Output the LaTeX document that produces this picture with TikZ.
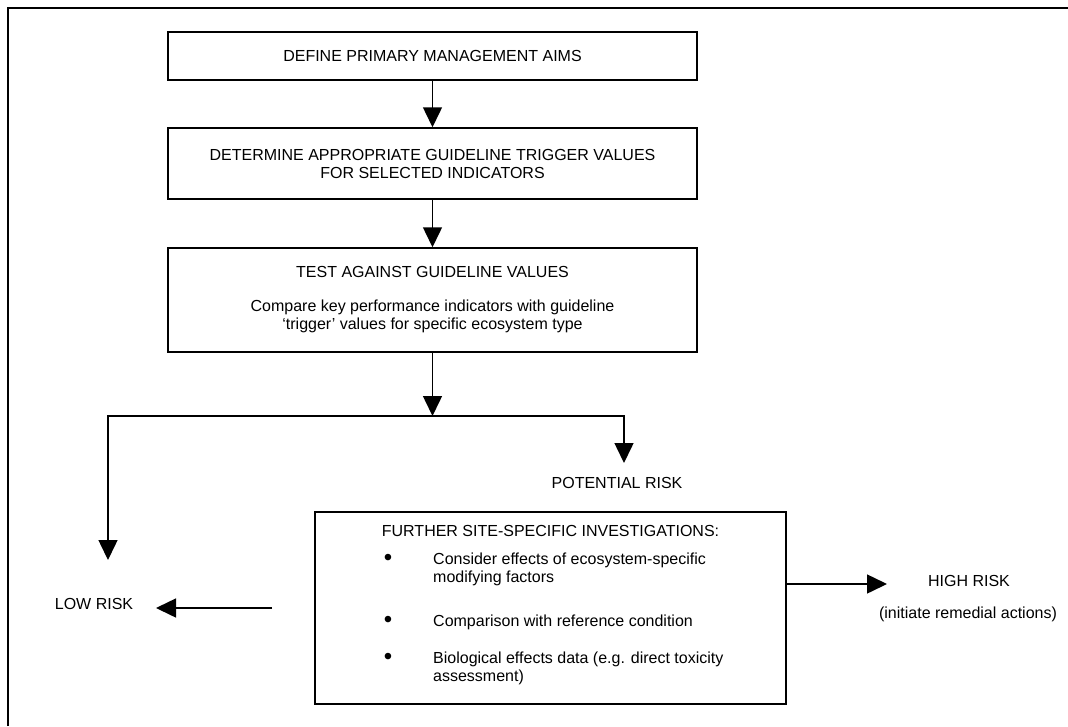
\documentclass[tikz,border=0pt]{standalone}
\usepackage{fontspec}
\setmainfont{Liberation Sans}
\usetikzlibrary{arrows.meta}
\begin{document}
\begin{tikzpicture}[x=1pt,y=-1pt,
    every node/.style={inner sep=0pt,align=center,font=\fontsize{16}{18}\selectfont},
    box/.style={draw,line width=1.5pt},
    bul/.style={font=\fontsize{24}{24}\selectfont},
    arr/.style={line width=1.5pt,-{Triangle[length=20pt,width=19pt]}},
    arrs/.style={line width=1.5pt,{Triangle[length=20pt,width=19pt]}-{Triangle[length=20pt,width=19pt]}}]
      \useasboundingbox (0,0) rectangle (1068,726);
      \draw[line width=2.2pt] (8,726) -- (8,8) -- (1068,8);
      \draw
        (432.5,56) node[box,minimum width=529,minimum height=48] (aims){DEFINE PRIMARY MANAGEMENT AIMS}
        (432.5,163.5) node[box,minimum width=529,minimum height=71] (trig){DETERMINE APPROPRIATE GUIDELINE TRIGGER VALUES\\FOR SELECTED INDICATORS}
        (432.5,300) node[box,minimum width=529,minimum height=104] (test){TEST AGAINST GUIDELINE VALUES\\[16pt]Compare key performance indicators with guideline\\‘trigger’ values for specific ecosystem type}
        (617,483) node (pot){POTENTIAL RISK}
        (550.5,608) node[box,minimum width=471,minimum height=192] (invest){}
        (550.5,531) node (furth){FURTHER SITE-SPECIFIC INVESTIGATIONS:}
        (388,560) node[bul] (dot1){•}
        (433,569) node[anchor=west,align=left] (item1){Consider effects of ecosystem-specific\\modifying factors}
        (388,622) node[bul] (dot2){•}
        (433,622) node[anchor=west,align=left] (item2){Comparison with reference condition}
        (388,659) node[bul] (dot3){•}
        (433,668) node[anchor=west,align=left] (item3){Biological effects data (e.g. direct toxicity\\assessment)}
        (94,604) node (low){LOW RISK}
        (969,581) node (high){HIGH RISK}
        (968,614) node (remed){(initiate remedial actions)};
      \coordinate (fork) at (432.5,416);
      \coordinate (forkl) at (108,416);
      \coordinate (forkr) at (624,416);
      \coordinate (ltip) at (108,560);
      \coordinate (rtip) at (624,463);
      \coordinate (lowtail) at (272,608);
      \coordinate (lowtip) at (156,608);
      \coordinate (hightip) at (887,584);
      \begin{scope}[arr]
        \draw (aims) to (trig);
        \draw (trig) to (test);
        \draw (test) to (fork);
        \draw[arrs] (ltip) -- (forkl) -- (forkr) -- (rtip);
        \draw (lowtail) to (lowtip);
        \draw (hightip -| invest.east) to (hightip);
      \end{scope}
    \end{tikzpicture}
\end{document}
